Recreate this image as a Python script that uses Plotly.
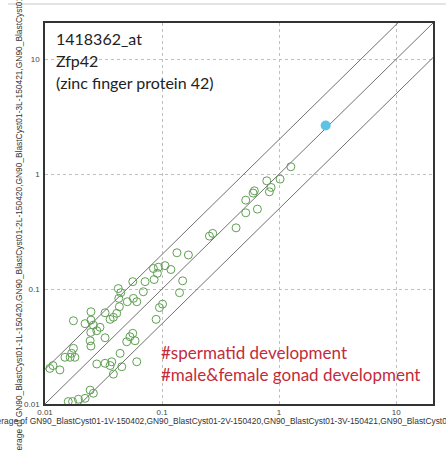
import plotly.graph_objects as go

# ---- data ----
green_x = [0.0175, 0.022, 0.0247, 0.0247, 0.0259, 0.0246, 0.0295, 0.0277, 0.0326, 0.036,
           0.0384, 0.041, 0.0432, 0.0423, 0.0444, 0.0427, 0.0505, 0.0562, 0.0569, 0.0608,
           0.0692, 0.0716, 0.0855, 0.0843, 0.093, 0.0912, 0.106, 0.119, 0.134, 0.168,
           0.150, 0.141, 0.101, 0.095, 0.089,
           0.0243, 0.0247, 0.0175, 0.0169, 0.0148, 0.0164, 0.018, 0.011, 0.0134, 0.0117,
           0.0438, 0.0499, 0.0532, 0.0562, 0.0588, 0.0608, 0.0277, 0.0326, 0.0372, 0.036,
           0.0453, 0.0384, 0.0326,
           0.0158, 0.0172, 0.0193, 0.022, 0.0243, 0.0259,
           1.26, 1.02, 0.785, 0.855, 0.826, 0.615, 0.60, 0.519, 0.653, 0.519, 0.429, 0.271, 0.254]
green_y = [0.053, 0.050, 0.0635, 0.0537, 0.0486, 0.042, 0.0465, 0.0434, 0.0622, 0.0545,
           0.0568, 0.0615, 0.0702, 0.101, 0.093, 0.083, 0.0776, 0.116, 0.083, 0.0776,
           0.0948, 0.116, 0.121, 0.151, 0.155, 0.137, 0.160, 0.148, 0.207, 0.198,
           0.118, 0.093, 0.074, 0.069, 0.0545,
           0.0355, 0.0319, 0.0305, 0.0276, 0.0255, 0.0255, 0.0255, 0.0204, 0.0198, 0.0216,
           0.0276, 0.0348, 0.0385, 0.0412, 0.0355, 0.0233, 0.0223, 0.0226, 0.0233, 0.0216,
           0.0211, 0.0182, 0.0377,
           0.0105, 0.0105, 0.011, 0.0112, 0.0132, 0.0124,
           1.16, 0.905, 0.875, 0.766, 0.702, 0.716, 0.684, 0.594, 0.496, 0.461, 0.341, 0.305, 0.289]
highlight_x = [2.5]
highlight_y = [2.65]
fold_ratios = [2, 1, 0.5]
line_x = [0.001, 100]
tick_vals = [0.01, 0.1, 1, 10]
tick_text = ["0.01", "0.1", "1", "10"]

gene_lines = ["1418362_at", "Zfp42", "(zinc finger protein 42)"]
go_terms = ["#spermatid development", "#male&female gonad development"]
x_title = ("Average of GN90_BlastCyst01-1V-150402,GN90_BlastCyst01-2V-150420,"
           "GN90_BlastCyst01-3V-150421,GN90_BlastCyst01-4V-150421")
y_title = ("Average of GN90_BlastCyst01-1L-150420,GN90_BlastCyst01-2L-150420,"
           "GN90_BlastCyst01-3L-150421,GN90_BlastCyst01-4L-150421")

fig = go.Figure()
for r in fold_ratios:
    fig.add_trace(go.Scatter(x=line_x, y=[v * r for v in line_x], mode="lines",
                             line=dict(color="#707070", width=1), hoverinfo="skip"))
fig.add_trace(go.Scatter(x=green_x, y=green_y, mode="markers",
                         marker=dict(symbol="circle-open", size=8, color="#5f9f52",
                                     line=dict(width=1, color="#5f9f52"))))
fig.add_trace(go.Scatter(x=highlight_x, y=highlight_y, mode="markers",
                         marker=dict(symbol="circle", size=10, color="#5cc3e6")))

axis_common = dict(type="log", range=[-2, 1.315], tickvals=tick_vals, ticktext=tick_text,
                   showgrid=True, gridcolor="#c0c0c0", griddash="dot", gridwidth=1,
                   showline=True, linecolor="#333333", linewidth=1.5, mirror=True,
                   zeroline=False, ticks="",
                   tickfont=dict(family="Liberation Sans", size=8, color="#444444"))
fig.update_xaxes(**axis_common)
fig.update_yaxes(**axis_common, ticklabelstandoff=2)

annotations = []
for i, t in enumerate(gene_lines):
    annotations.append(dict(text=t, xref="paper", yref="paper", x=0.024, y=(404 - 38 - 22 * i) / 381,
                            xanchor="left", yanchor="middle", showarrow=False,
                            font=dict(family="Lato", size=16, color="#222222")))
for i, t in enumerate(go_terms):
    annotations.append(dict(text=t, xref="paper", yref="paper", x=(159 - 45) / 388, y=(404 - 352 - 22 * i) / 381,
                            xanchor="left", yanchor="middle", showarrow=False,
                            font=dict(family="Lato", size=17, color="#c42b3a")))
annotations.append(dict(text=x_title, xref="paper", yref="paper", x=(-15 - 45) / 388, y=(404 - 421) / 381,
                        xanchor="left", yanchor="middle", showarrow=False,
                        font=dict(family="Liberation Sans", size=8.4, color="#333333")))
annotations.append(dict(text=y_title, xref="paper", yref="paper", x=(19 - 45) / 388, y=(404 - 462) / 381,
                        xanchor="center", yanchor="bottom", textangle=-90, showarrow=False,
                        font=dict(family="Liberation Sans", size=8.4, color="#333333")))

fig.update_layout(width=446, height=450, margin=dict(l=45, r=13, t=23, b=46),
                  paper_bgcolor="white", plot_bgcolor="white", showlegend=False,
                  annotations=annotations,
                  shapes=[dict(type="line", xref="paper", yref="paper", x0=(8 - 45) / 388, x1=(446 - 45) / 388,
                               y0=(404 - 4) / 381, y1=(404 - 4) / 381, line=dict(color="#c8c8c8", width=1))])
fig.write_html("out.html")
